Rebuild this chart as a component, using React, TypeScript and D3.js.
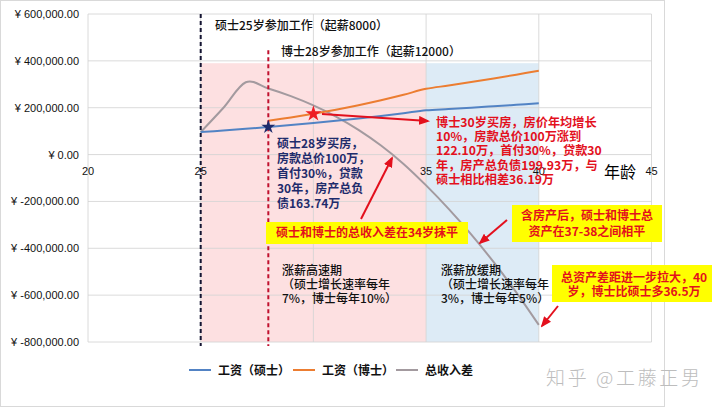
import React from "react";
import * as d3 from "d3";

// ---------- data ----------
const masterAges = [25, 26, 27, 28, 29, 30, 31, 32, 33, 34, 35, 36, 37, 38, 39, 40];
const masterSalary = [96000, 102700, 109900, 117600, 125800, 134600, 144100, 154200, 164900, 176500, 188800, 194500, 200300, 206300, 212500, 218900];
const doctorAges = [28, 29, 30, 31, 32, 33, 34, 35, 36, 37, 38, 39, 40];
const doctorSalary = [144000, 158400, 174200, 191700, 210800, 231900, 255100, 280600, 294600, 309400, 324800, 341100, 358100];
const incomeGap = [96000, 198700, 308600, 282200, 249600, 210000, 162400, 105800, 38800, -39800, -131600, -231700, -340800, -459300, -587900, -727100];

const yTicks = [-800000, -600000, -400000, -200000, 0, 200000, 400000, 600000];
const yTickLabels = ["¥ -800,000.00", "¥ -600,000.00", "¥ -400,000.00", "¥ -200,000.00", "¥ 0.00", "¥ 200,000.00", "¥ 400,000.00", "¥ 600,000.00"];
const xTicks = [20, 25, 30, 35, 40, 45];
const xTickLabels = ["20", "25", "", "35", "40", "45"];

const periodStart = [25, 35];
const periodEnd = [35, 40];
const periodTop = 390000;

const masterStartAge = 25;
const doctorStartAge = 28;
const masterLineTop = 600000;
const doctorLineTop = 445000;

const masterBuyAge = 28;
const doctorBuyAge = 30;

const seriesNames = ["工资（硕士）", "工资（博士）", "总收入差"];

// ---------- styles ----------
const CJK = "'Noto Sans CJK SC', 'Noto Sans', sans-serif";
const NUM = "'Liberation Sans', Arial, sans-serif";
const C_BLUE = "#5283c4";
const C_ORANGE = "#ec7d31";
const C_GRAY = "#a39a9f";
const C_RED = "#e3101d";
const C_NAVY = "#1f2c6c";
const periodColors = ["#fde0e1", "#ddebf6"];

const W = 720;
const H = 408;
const x = d3.scaleLinear().domain([20, 45]).range([88, 651.5]);
const y = d3.scaleLinear().domain([-800000, 600000]).range([342, 14]);

const line = d3
  .line<[number, number]>()
  .x((d) => x(d[0]))
  .y((d) => y(d[1]))
  .curve(d3.curveCardinal.tension(0));

function zip(a: number[], b: number[]): [number, number][] {
  return a.map((v, i) => [v, b[i]]);
}

function MultiText(props: {
  lines: string[];
  x: number;
  y: number;
  dy: number;
  size: number;
  weight: number | string;
  fill: string;
  anchor?: string;
}) {
  const { lines, dy, size, weight, fill, anchor } = props;
  return (
    <text
      fontFamily={CJK}
      fontSize={size}
      fontWeight={weight}
      fill={fill}
      textAnchor={anchor || "start"}
    >
      {lines.map((l, i) => (
        <tspan key={i} x={props.x} y={props.y + i * dy}>
          {l}
        </tspan>
      ))}
    </text>
  );
}

export default function App() {
  const starNavy = d3.symbol().type(d3.symbolStar).size(60)() as string;
  const starRed = d3.symbol().type(d3.symbolStar).size(80)() as string;
  const mi = masterAges.indexOf(masterBuyAge);
  const di = doctorAges.indexOf(doctorBuyAge);

  const arrows: [number, number, number, number][] = [
    [322, 114, 428, 121],
    [361, 219, 392, 158],
    [507, 220, 480, 243],
    [558, 306, 542, 326],
  ];

  return (
    <svg
      width={W}
      height={H}
      viewBox={`0 0 ${W} ${H}`}
      style={{ position: "absolute", left: 0, top: 0, background: "#fff" }}
    >
      <defs>
        <marker
          id="arr"
          markerUnits="userSpaceOnUse"
          markerWidth={11}
          markerHeight={9}
          refX={9}
          refY={4.5}
          orient="auto"
        >
          <path d="M0,0 L11,4.5 L0,9 z" fill={C_RED} />
        </marker>
      </defs>

      {/* chart frame */}
      <rect x={0.5} y={0.5} width={664} height={406} fill="#fff" stroke="#d9d9d9" />

      {/* period shading */}
      {periodStart.map((s, i) => (
        <rect
          key={i}
          x={x(s)}
          y={y(periodTop)}
          width={x(periodEnd[i]) - x(s)}
          height={y(-800000) - y(periodTop)}
          fill={periodColors[i]}
        />
      ))}

      {/* gridlines */}
      {yTicks.map((t) => (
        <line key={"h" + t} x1={x(20)} x2={x(45)} y1={y(t)} y2={y(t)} stroke="#d4d4d4" strokeOpacity={0.85} />
      ))}
      {xTicks.map((t) => (
        <line key={"v" + t} x1={x(t)} x2={x(t)} y1={y(600000)} y2={y(-800000)} stroke="#d4d4d4" strokeOpacity={0.85} />
      ))}

      {/* y tick labels */}
      {yTicks.map((t, i) => (
        <text key={"yl" + t} x={79} y={y(t) + 4} textAnchor="end" fontFamily={NUM} fontSize={11} fill="#111">
          {yTickLabels[i]}
        </text>
      ))}
      {/* x tick labels */}
      {xTicks.map((t, i) => (
        <text key={"xl" + t} x={x(t)} y={y(0) + 20} textAnchor="middle" fontFamily={NUM} fontSize={11} fill="#111">
          {xTickLabels[i]}
        </text>
      ))}
      <text x={604} y={178} fontFamily={CJK} fontSize={16} fill="#000">
        年龄
      </text>

      {/* series */}
      <path d={line(zip(masterAges, incomeGap)) || ""} fill="none" stroke={C_GRAY} strokeWidth={2} />
      <path d={line(zip(doctorAges, doctorSalary)) || ""} fill="none" stroke={C_ORANGE} strokeWidth={2} />
      <path d={line(zip(masterAges, masterSalary)) || ""} fill="none" stroke={C_BLUE} strokeWidth={2} />

      {/* start-age dashed lines */}
      <line
        x1={x(masterStartAge)}
        x2={x(masterStartAge)}
        y1={y(masterLineTop)}
        y2={y(-800000) + 4}
        stroke="#141432"
        strokeWidth={2}
        strokeDasharray="4,3"
      />
      <line
        x1={x(doctorStartAge)}
        x2={x(doctorStartAge)}
        y1={y(doctorLineTop)}
        y2={y(-800000) + 4}
        stroke="#c0102e"
        strokeWidth={2}
        strokeDasharray="4,3"
      />

      {/* stars */}
      <path d={starNavy} transform={`translate(${x(masterBuyAge)},${y(masterSalary[mi])})`} fill={C_NAVY} />
      <path d={starRed} transform={`translate(${x(doctorBuyAge)},${y(doctorSalary[di])})`} fill="#ee1c24" />

      {/* titles */}
      <text x={215} y={29.5} fontFamily={CJK} fontSize={12} fontWeight={500} fill="#111">
        硕士25岁参加工作（起薪8000）
      </text>
      <text x={281} y={56} fontFamily={CJK} fontSize={12} fontWeight={500} fill="#111">
        博士28岁参加工作（起薪12000）
      </text>

      {/* navy annotation */}
      <MultiText
        lines={["硕士28岁买房，", "房款总价100万，", "首付30%，贷款", "30年，房产总负", "债163.74万"]}
        x={277}
        y={147.5}
        dy={15.1}
        size={12}
        weight={700}
        fill={C_NAVY}
      />

      {/* red annotation */}
      <MultiText
        lines={[
          "博士30岁买房，房价年均增长",
          "10%，房款总价100万涨到",
          "122.10万，首付30%，贷款30",
          "年，房产总负债199.93万，与",
          "硕士相比相差36.19万",
        ]}
        x={436}
        y={126.8}
        dy={14.3}
        size={12.2}
        weight={700}
        fill={C_RED}
      />

      {/* period notes */}
      <MultiText
        lines={["涨薪高速期", "（硕士增长速率每年", "7%，博士每年10%）"]}
        x={282}
        y={275}
        dy={14.2}
        size={12}
        weight={500}
        fill="#111"
      />
      <MultiText
        lines={["涨薪放缓期", "（硕士增长速率每年", "3%，博士每年5%）"]}
        x={441}
        y={275}
        dy={14.2}
        size={12}
        weight={500}
        fill="#111"
      />

      {/* arrows */}
      {arrows.map((a, i) => (
        <line
          key={"a" + i}
          x1={a[0]}
          y1={a[1]}
          x2={a[2]}
          y2={a[3]}
          stroke={C_RED}
          strokeWidth={2}
          markerEnd="url(#arr)"
        />
      ))}

      {/* yellow callouts */}
      <rect x={266} y={222} width={202} height={22} fill="#ffff00" />
      <MultiText lines={["硕士和博士的总收入差在34岁抹平"]} x={367} y={237} dy={0} size={12} weight={700} fill={C_RED} anchor="middle" />

      <rect x={512} y={205} width={150} height={37} fill="#ffff00" />
      <MultiText
        lines={["含房产后，硕士和博士总", "资产在37-38之间相平"]}
        x={587}
        y={220}
        dy={16}
        size={12}
        weight={700}
        fill={C_RED}
        anchor="middle"
      />

      <rect x={552} y={265} width={160} height={37} fill="#ffff00" />
      <MultiText
        lines={["总资产差距进一步拉大，40", "岁，博士比硕士多36.5万"]}
        x={634}
        y={281.5}
        dy={14.5}
        size={12}
        weight={700}
        fill={C_RED}
        anchor="middle"
      />

      {/* legend */}
      {[C_BLUE, C_ORANGE, C_GRAY].map((c, i) => {
        const lx = [189, 293, 396][i];
        return (
          <g key={"lg" + i}>
            <line x1={lx} x2={lx + 22} y1={370} y2={370} stroke={c} strokeWidth={2} />
            <text x={lx + 29} y={374.5} fontFamily={CJK} fontSize={12} fontWeight={600} fill="#111">
              {seriesNames[i]}
            </text>
          </g>
        );
      })}

      {/* watermark */}
      <text
        x={546}
        y={385}
        fontFamily={CJK}
        fontSize={19}
        fontWeight={300}
        fill="#bdbdbd"
        textLength={154}
        lengthAdjust="spacing"
      >
        知乎 @工藤正男
      </text>
    </svg>
  );
}
